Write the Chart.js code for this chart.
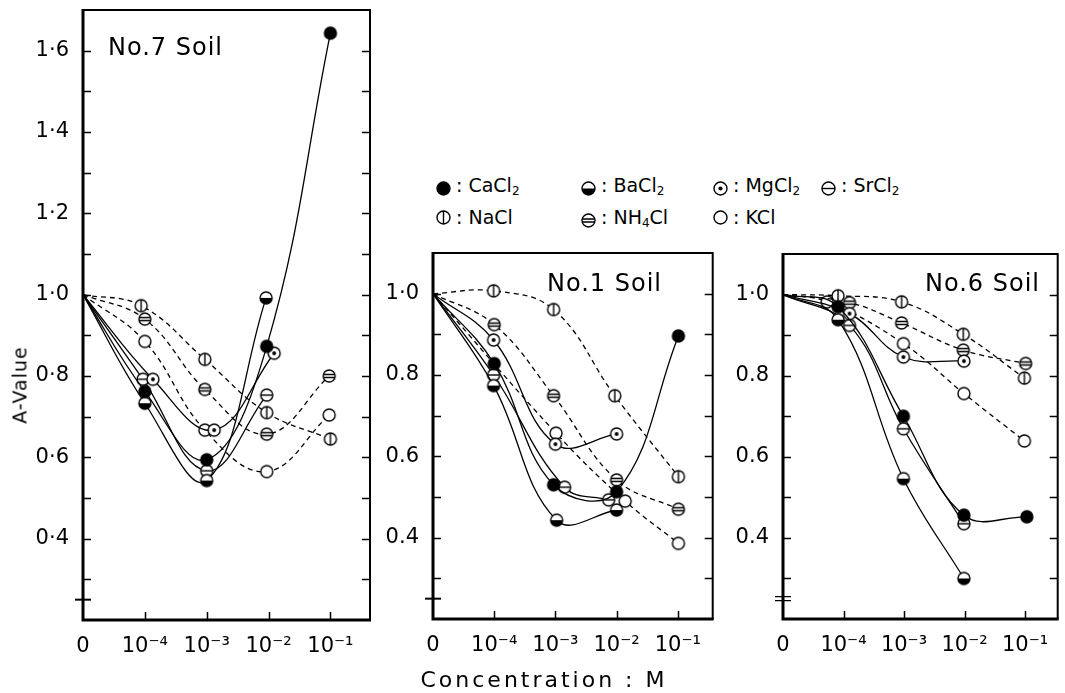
<!DOCTYPE html>
<html>
<head>
<meta charset="utf-8">
<script src="https://cdn.jsdelivr.net/npm/chart.js@4.4.0/dist/chart.umd.min.js"></script>
<style>
body{margin:0;background:#fff;width:1065px;height:693px;position:relative;overflow:hidden;font-family:"DejaVu Sans",sans-serif;color:#000}
canvas{position:absolute}
.txt{position:absolute;white-space:nowrap;line-height:1}
.soil{font-size:24px;letter-spacing:1px}
#ytitle{left:20px;top:385px;font-size:19px;letter-spacing:1px;transform:translate(-50%,-50%) rotate(-90deg)}
#xtitle{left:544px;top:680px;font-size:22px;letter-spacing:3px;transform:translate(-50%,-50%)}
.leg{position:absolute;white-space:nowrap;font-size:19px;line-height:19px;display:flex;align-items:center}
.leg canvas{position:static;margin-right:4px}
.leg sub{font-size:12px;vertical-align:-3px}
</style>
</head>
<body>
<canvas id="c7" width="380" height="693" style="left:0;top:0"></canvas>
<canvas id="c1" width="340" height="453" style="left:380px;top:240px"></canvas>
<canvas id="c6" width="345" height="453" style="left:720px;top:240px"></canvas>
<div class="txt soil" style="left:108px;top:35px">No.7 Soil</div>
<div class="txt soil" style="left:547px;top:271px">No.1 Soil</div>
<div class="txt soil" style="left:925px;top:271px">No.6 Soil</div>
<div class="txt" id="ytitle">A-Value</div>
<div class="txt" id="xtitle">Concentration : M</div>
<div id="legend"></div>
<script>
/* AXES: x index 0 = no salt, 1..4 = 10^-4 .. 10^-1 M */
const xTickLabels = ['0','10⁻⁴','10⁻³','10⁻²','10⁻¹']
const yTicks7 = [1.6,1.4,1.2,1.0,0.8,0.6,0.4]
const yLabels7 = ['1·6','1·4','1·2','1·0','0·8','0·6','0·4']
const yTicksSmall = [1.0,0.8,0.6,0.4]
const yLabelsSmall = ['1·0','0.8','0.6','0.4']

/* SALTS */
const salts = ['CaCl2','BaCl2','MgCl2','SrCl2','NaCl','NH4Cl','KCl']
const saltLabels = ['CaCl<sub>2</sub>','BaCl<sub>2</sub>','MgCl<sub>2</sub>','SrCl<sub>2</sub>','NaCl','NH<sub>4</sub>Cl','KCl']

/* No.7 SOIL  [x, A-value] */
const s7_CaCl2 = [[0,1.0],[1,0.762],[2,0.594],[2.97,0.873],[4,1.643]]
const s7_BaCl2 = [[0,1.0],[1,0.733],[2,0.543],[2.96,0.992]]
const s7_MgCl2 = [[0,1.0],[1.13,0.792],[2.12,0.667],[3.09,0.856]]
const s7_SrCl2 = [[0,1.0],[0.97,0.792],[2,0.567],[2.97,0.753]]
const s7_NaCl = [[0,1.0],[0.94,0.973],[1.97,0.841],[2.97,0.71],[4,0.645]]
const s7_NH4Cl = [[0,1.0],[1,0.94],[1.97,0.767],[2.97,0.657],[3.98,0.80]]
const s7_KCl = [[0,1.0],[1,0.885],[1.97,0.667],[2.97,0.565],[3.98,0.704]]

/* No.1 SOIL */
const s1_CaCl2 = [[0,1.0],[1,0.828],[1.97,0.53],[3,0.513],[4.01,0.896]]
const s1_BaCl2 = [[0,1.0],[0.99,0.774],[2.02,0.443],[3,0.468]]
const s1_MgCl2 = [[0,1.0],[0.99,0.886],[2,0.63],[3,0.655]]
const s1_SrCl2 = [[0,1.0],[0.99,0.80],[2.15,0.524],[2.87,0.493]]
const s1_NaCl = [[0,1.0],[0.99,1.007],[1.97,0.961],[2.97,0.749],[4.01,0.55]]
const s1_NH4Cl = [[0,1.0],[1,0.924],[1.97,0.749],[3,0.542],[4.01,0.47]]
const s1_KCl = [[0,1.0],[2.01,0.657],[3.14,0.49],[4.01,0.386]]

/* No.6 SOIL */
const s6_CaCl2 = [[0,1.0],[0.91,0.97],[1.99,0.70],[2.99,0.456],[4.03,0.452]]
const s6_BaCl2 = [[0,1.0],[0.91,0.938],[1.99,0.546],[2.99,0.30]]
const s6_MgCl2 = [[0,1.0],[1.1,0.953],[1.99,0.846],[2.99,0.836]]
const s6_SrCl2 = [[0,1.0],[1.1,0.924],[1.99,0.669],[2.99,0.435]]
const s6_NaCl = [[0,1.0],[0.91,0.997],[1.96,0.982],[2.98,0.902],[3.99,0.794]]
const s6_NH4Cl = [[0,1.0],[1.1,0.98],[1.96,0.93],[2.98,0.863],[4.01,0.83]]
const s6_KCl = [[0,1.0],[0.73,0.982],[1.99,0.879],[2.99,0.756],[3.99,0.639]]

/* STYLE */
const saltMarks = ['full','half','dot','hline','vline','dline','open']
const saltDashed = [false,false,false,false,true,true,true]

function marker(kind,r){
let s=Math.ceil(r*2+4),c=document.createElement('canvas')
c.width=c.height=s
let g=c.getContext('2d'),m=s/2
g.lineWidth=1.4;g.strokeStyle='#000';g.fillStyle='#fff'
g.beginPath();g.arc(m,m,r,0,Math.PI*2);g.fill()
g.fillStyle='#000'
if(kind=='full'){g.beginPath();g.arc(m,m,r,0,Math.PI*2);g.fill()}
if(kind=='half'){g.beginPath();g.arc(m,m,r,0,Math.PI);g.closePath();g.fill()}
if(kind=='dot'){g.beginPath();g.arc(m,m,r*0.32,0,Math.PI*2);g.fill()}
g.beginPath()
if(kind=='hline'){g.moveTo(m-r,m);g.lineTo(m+r,m)}
if(kind=='vline'){g.moveTo(m,m-r);g.lineTo(m,m+r)}
if(kind=='dline'){let w=Math.sqrt(r*r-2.25);g.moveTo(m-w,m-1.5);g.lineTo(m+w,m-1.5);g.moveTo(m-w,m+1.5);g.lineTo(m+w,m+1.5)}
g.stroke()
g.beginPath();g.arc(m,m,r,0,Math.PI*2);g.stroke()
return c
}
const markImgs = saltMarks.map(k=>marker(k,6))

/* FRAME, INWARD TICKS, AXIS BREAK */
const framePlugin={
id:'frame',
afterDraw(chart,args,opts){
let {ctx,chartArea:a,scales:{x,y}}=chart
ctx.save();ctx.strokeStyle='#000'
ctx.lineWidth=2
ctx.beginPath();ctx.moveTo(a.left,a.top);ctx.lineTo(a.right,a.top);ctx.lineTo(a.right,a.bottom);ctx.stroke()
ctx.lineWidth=3
ctx.beginPath();ctx.moveTo(a.left,a.top-1);ctx.lineTo(a.left,a.bottom);ctx.lineTo(a.right+1,a.bottom);ctx.stroke()
ctx.lineWidth=1.5;ctx.beginPath()
y.ticks.forEach(t=>{
if(t.value<=y.min+1e-6||t.value>=y.max-1e-6)return
let py=Math.round(y.getPixelForValue(t.value))+0.5
ctx.moveTo(a.left,py);ctx.lineTo(a.left+8,py)
ctx.moveTo(a.right,py);ctx.lineTo(a.right-8,py)
})
x.ticks.forEach(t=>{
if(t.value<=0)return
let px=Math.round(x.getPixelForValue(t.value))+0.5
ctx.moveTo(px,a.bottom);ctx.lineTo(px,a.bottom-8)
})
ctx.stroke()
ctx.lineWidth=2;ctx.beginPath()
let yb=y.getPixelForValue(0.25)
if(opts.double){
ctx.lineWidth=1.2
ctx.moveTo(a.left-8,yb-2);ctx.lineTo(a.left+8,yb-2)
ctx.moveTo(a.left-8,yb+2);ctx.lineTo(a.left+8,yb+2)
}else{
ctx.moveTo(a.left-8,yb);ctx.lineTo(a.left+8,yb)
}
ctx.stroke()
ctx.restore()
}
}

Chart.defaults.font.family="'DejaVu Sans', sans-serif"
Chart.defaults.color='#000'

function noPad(s){s.paddingTop=0;s.paddingBottom=0;s.paddingLeft=0;s.paddingRight=0}

function drawPanel(id,series,yMax,xMax,yTicks,yLabels,pad,yW,xH,dbl){
new Chart(document.getElementById(id),{
type:'scatter',
data:{datasets:series.map((d,i)=>({
label:salts[i],
data:d.map(p=>({x:p[0],y:p[1]})),
showLine:true,
borderColor:'#000',
borderWidth:1.3,
borderDash:saltDashed[i]?[5,4]:[],
tension:0.4,
pointStyle:markImgs[i],
pointRadius:c=>c.raw&&c.raw.x===0?0:6,
pointHoverRadius:c=>c.raw&&c.raw.x===0?0:6
}))},
options:{
responsive:false,animation:false,events:[],
layout:{padding:pad},
plugins:{legend:{display:false},tooltip:{enabled:false},frame:{double:dbl}},
scales:{
x:{type:'linear',min:0,max:xMax,
grid:{display:false},border:{display:false},
ticks:{stepSize:1,includeBounds:false,autoSkip:false,maxRotation:0,padding:6,font:{size:21},
callback:v=>Math.abs(v-Math.round(v))<1e-6?(xTickLabels[Math.round(v)]??''):''},
afterFit:s=>{s.height=xH;noPad(s)}},
y:{min:0.2,max:yMax,
grid:{display:false},border:{display:false},
ticks:{stepSize:0.1,includeBounds:false,autoSkip:false,padding:6,font:{size:21},
callback:v=>{let k=yTicks.findIndex(t=>Math.abs(t-v)<1e-6);return k<0?'':yLabels[k]}},
afterFit:s=>{s.width=yW;noPad(s)}}
}
},
plugins:[framePlugin]
})
}

drawPanel('c7',[s7_CaCl2,s7_BaCl2,s7_MgCl2,s7_SrCl2,s7_NaCl,s7_NH4Cl,s7_KCl],
1.7,4.64,yTicks7,yLabels7,{left:0,top:10,right:10,bottom:0},83,73,false)
drawPanel('c1',[s1_CaCl2,s1_BaCl2,s1_MgCl2,s1_SrCl2,s1_NaCl,s1_NH4Cl,s1_KCl],
1.1,4.57,yTicksSmall,yLabelsSmall,{left:0,top:13,right:5,bottom:0},53,74,false)
drawPanel('c6',[s6_CaCl2,s6_BaCl2,s6_MgCl2,s6_SrCl2,s6_NaCl,s6_NH4Cl,s6_KCl],
1.1,4.54,yTicksSmall,yLabelsSmall,{left:0,top:14,right:2,bottom:0},63,74,true)

/* LEGEND */
const legCols=[443,588,720,828]
const legRows=[186,218]
let leg=document.getElementById('legend')
salts.forEach((s,i)=>{
let row=i<4?0:1,col=i<4?i:i-4
let d=document.createElement('div')
d.className='leg'
d.style.left=(legCols[col]-8)+'px'
d.style.top=(legRows[row]-10)+'px'
let c=marker(saltMarks[i],6.5)
d.appendChild(c)
let t=document.createElement('span')
t.innerHTML=' : '+saltLabels[i]
d.appendChild(t)
leg.appendChild(d)
})
</script>
</body>
</html>
